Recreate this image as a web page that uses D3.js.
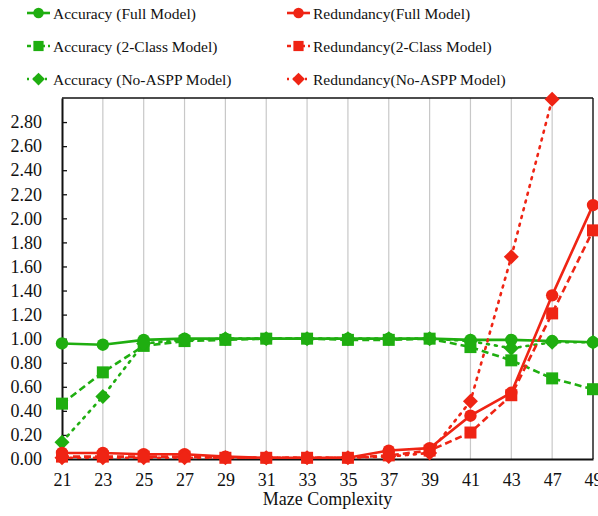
<!DOCTYPE html>
<html><head><meta charset="utf-8">
<script src="https://cdn.jsdelivr.net/npm/d3@7"></script>
<style>body{margin:0;background:#fff}svg{display:block}text{font-family:"Liberation Serif","Times New Roman",Times,serif;fill:#111}</style>
</head><body>
<svg id="c" width="598" height="516"></svg>
<script>
const categories = ["21","23","25","27","29","31","33","35","37","39","41","43","47","49"];
const accFull   = [0.96,0.95,0.99,1.00,1.00,1.00,1.00,1.00,1.00,1.00,0.99,0.99,0.98,0.97];
const acc2Class = [0.46,0.72,0.94,0.98,0.99,1.00,1.00,0.99,0.99,1.00,0.93,0.82,0.67,0.58];
const accNoAspp = [0.14,0.52,0.96,0.99,1.00,1.00,1.00,1.00,1.00,1.00,0.98,0.92,0.97,0.97];
const redFull   = [0.05,0.05,0.04,0.04,0.02,0.01,0.01,0.01,0.07,0.09,0.36,0.55,1.36,2.11];
const red2Class = [0.02,0.02,0.02,0.02,0.01,0.01,0.01,0.01,0.03,0.07,0.22,0.53,1.21,1.90];
const redNoAspp = [0.01,0.01,0.01,0.01,0.01,0.01,0.01,0.01,0.02,0.05,0.48,1.68,2.99,null];
const yTicks = [0,0.2,0.4,0.6,0.8,1.0,1.2,1.4,1.6,1.8,2.0,2.2,2.4,2.6,2.8];

const GREEN = "#1fae10", RED = "#ef2414";
const series = [
  {name:"Accuracy (Full Model)", vals:accFull, color:GREEN, dash:null, marker:"circle"},
  {name:"Accuracy (2-Class Model)", vals:acc2Class, color:GREEN, dash:"7,4", marker:"square"},
  {name:"Accuracy (No-ASPP Model)", vals:accNoAspp, color:GREEN, dash:"2,6", marker:"diamond"},
  {name:"Redundancy(Full Model)", vals:redFull, color:RED, dash:null, marker:"circle"},
  {name:"Redundancy(2-Class Model)", vals:red2Class, color:RED, dash:"7,4", marker:"square"},
  {name:"Redundancy(No-ASPP Model)", vals:redNoAspp, color:RED, dash:"2,6", marker:"diamond"}
];

const svg = d3.select("#c");
const L=62, R=593, T=98, B=459;
const x = d3.scalePoint().domain(categories).range([L,R]).padding(0);
const y = d3.scaleLinear().domain([0,3.0]).range([B,T]);

svg.append("g").selectAll("line").data(categories.slice(1)).join("line")
  .attr("x1",d=>x(d)).attr("x2",d=>x(d)).attr("y1",T).attr("y2",B)
  .attr("stroke","#c8c8c8").attr("stroke-width",1.2);

svg.append("line").attr("x1",L).attr("x2",R).attr("y1",T).attr("y2",T).attr("stroke","#111").attr("stroke-width",1.3);
svg.append("line").attr("x1",R).attr("x2",R).attr("y1",T).attr("y2",B).attr("stroke","#111").attr("stroke-width",1.3);

const yAxis = d3.axisLeft(y).tickValues(yTicks).tickFormat(d3.format(".2f")).tickSizeInner(-5).tickSizeOuter(0).tickPadding(20);
const gy = svg.append("g").attr("transform",`translate(${L},0)`).call(yAxis);
gy.attr("font-family",null).attr("font-size",null);
gy.select(".domain").attr("stroke","#111").attr("stroke-width",2);
gy.selectAll(".tick line").attr("stroke","#111").attr("stroke-width",1.3);
gy.selectAll("text").attr("font-size",18).attr("fill","#111");

const xAxis = d3.axisBottom(x).tickSize(0).tickPadding(14);
const gx = svg.append("g").attr("transform",`translate(0,${B})`).call(xAxis);
gx.attr("font-family",null).attr("font-size",null);
gx.select(".domain").attr("stroke","#111").attr("stroke-width",2);
gx.selectAll("text").attr("font-size",18).attr("fill","#111");

svg.append("text").attr("x",(L+R)/2).attr("y",505).attr("text-anchor","middle").attr("font-size",18).text("Maze Complexity");

const plot = svg.append("g");
const line = d3.line().defined(d=>d.v!=null).x(d=>x(d.c)).y(d=>y(d.v));

function drawMarker(g, type, cx, cy, color, scale=1){
  if(type==="circle") g.append("circle").attr("cx",cx).attr("cy",cy).attr("r",6.2*scale).attr("fill",color);
  else if(type==="square") g.append("rect").attr("x",cx-6*scale).attr("y",cy-6*scale).attr("width",12*scale).attr("height",12*scale).attr("fill",color);
  else g.append("path").attr("d",`M${cx},${cy-7.5*scale}L${cx+7.5*scale},${cy}L${cx},${cy+7.5*scale}L${cx-7.5*scale},${cy}Z`).attr("fill",color);
}

series.forEach(s=>{
  const data = categories.map((c,i)=>({c, v:s.vals[i]}));
  plot.append("path").datum(data).attr("d",line).attr("fill","none").attr("stroke",s.color)
    .attr("stroke-width",2.6).attr("stroke-dasharray",s.dash).attr("stroke-linecap",s.dash==="2,6"?"round":"butt");
  const mg = plot.append("g");
  data.filter(d=>d.v!=null).forEach(d=>drawMarker(mg,s.marker,x(d.c),y(d.v),s.color));
});

const legPos = [[27,13],[27,46],[27,79],[287,13],[287,46],[287,79]];
series.forEach((s,i)=>{
  const [lx,ly]=legPos[i];
  const g = svg.append("g");
  g.append("line").attr("x1",lx).attr("x2",lx+23).attr("y1",ly).attr("y2",ly).attr("stroke",s.color)
    .attr("stroke-width",2.6).attr("stroke-dasharray",s.dash==="7,4"?"4,3":s.dash==="2,6"?"2,4":null);
  drawMarker(g,s.marker,lx+11.5,ly,s.color,0.85);
  g.append("text").attr("x",lx+26).attr("y",ly+6).attr("font-size",15.5).text(s.name);
});
</script>
</body></html>
